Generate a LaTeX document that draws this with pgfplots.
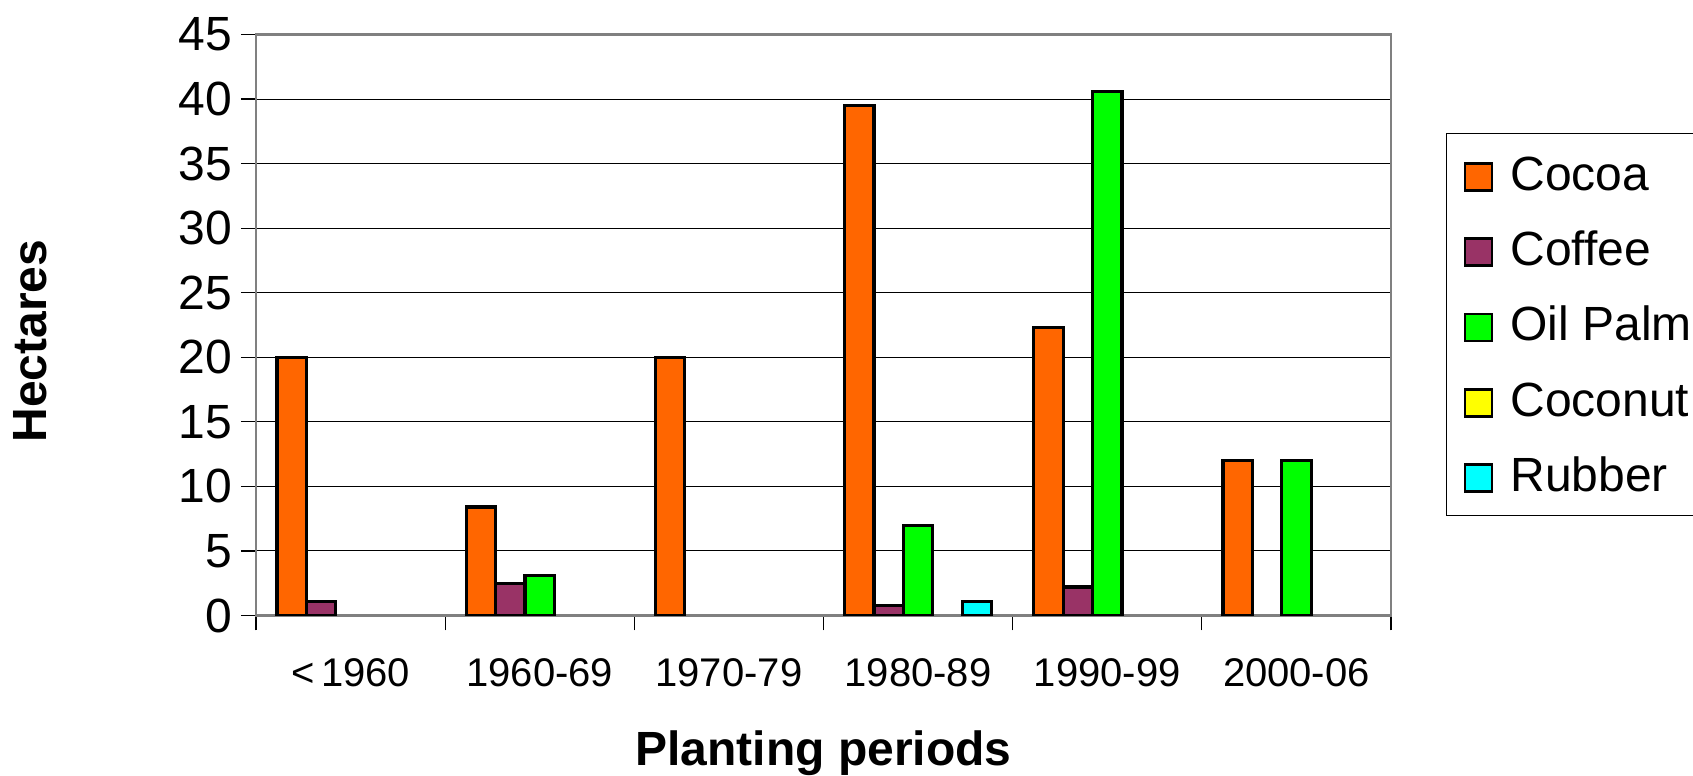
\documentclass[border=0pt]{standalone}
\usepackage{fontspec}
\setmainfont{Liberation Sans}
\usepackage{pgfplots}
\pgfplotsset{compat=1.18}

\definecolor{cocoa}{HTML}{FF6600}
\definecolor{coffee}{HTML}{993366}
\definecolor{oilpalm}{HTML}{00FF00}
\definecolor{coconut}{HTML}{FFFF00}
\definecolor{rubber}{HTML}{00FFFF}
\definecolor{frame}{HTML}{808080}

\begin{document}
\begin{tikzpicture}
\begin{axis}[
    name=ax,
    scale only axis,
    width=567.5pt, height=290.5pt,
    ybar=0pt, bar width=14.7pt,
    xmin=-0.5, xmax=5.5,
    ymin=0, ymax=45,
    ytick={0,5,...,45},
    xtick={0,...,5},
    xticklabels={{<\,1960},1960-69,1970-79,1980-89,1990-99,2000-06},
    minor xtick={-0.5,0.5,...,5.5},
    xtick pos=bottom, ytick pos=left,
    tick align=outside,
    major x tick style={draw=none},
    minor tick length=7.5pt,
    major tick length=7.5pt,
    tick style={black, line width=0.6pt},
    ymajorgrids,
    grid style={black, line width=0.5pt},
    axis line style={frame, line width=1.2pt},
    /pgf/number format/assume math mode=true,
    yticklabel style={font=\fontsize{24}{28}\selectfont, xshift=-1pt},
    xticklabel style={font=\fontsize{20}{24}\selectfont, yshift=-10.5pt},
    xlabel={Planting periods},
    ylabel={Hectares},
    xlabel style={font=\fontsize{24}{28}\selectfont\bfseries, at={(axis description cs:0.5,0)}, anchor=center, yshift=-68.7pt},
    ylabel style={font=\fontsize{24}{28}\selectfont\bfseries, at={(axis description cs:0,0.5)}, anchor=center, yshift=113pt, xshift=-8pt},
    legend image code/.code={\draw[#1, line width=1.4pt] (0pt,-8.5pt) rectangle (13.5pt,5pt);},
    legend style={
        at={(1,1)}, anchor=north west, xshift=27.5pt, yshift=-49.25pt,
        draw=black, line width=0.6pt,
        inner xsep=8.5pt, inner ysep=11.5pt,
        row sep=19.9pt, column sep=8.5pt,
        font=\fontsize{24}{28}\selectfont,
        nodes={inner sep=0pt, text height=17pt, text depth=0pt},
    },
    legend cell align=left,
    every axis plot/.append style={draw=black, line width=1.6pt},
]
% Cocoa
\addplot[fill=cocoa] coordinates {(0,20) (1,8.4) (2,20) (3,39.5) (4,22.3) (5,12)};
% Coffee
\addplot[fill=coffee] coordinates {(0,1.1) (1,2.5) (3,0.8) (4,2.2)};
% Oil Palm
\addplot[fill=oilpalm] coordinates {(1,3.1) (3,7) (4,40.6) (5,12)};
% Coconut: no area in any period (point kept outside the x range)
\addplot[fill=coconut] coordinates {(10,1)};
% Rubber
\addplot[fill=rubber] coordinates {(3,1.1)};
\legend{Cocoa,Coffee,Oil Palm,Coconut,Rubber}
\end{axis}
\pgfresetboundingbox
\path (ax.south west) ++(-128pt,-79.8pt) rectangle ([xshift=151pt,yshift=17.25pt]ax.north east);
\end{tikzpicture}
\end{document}
